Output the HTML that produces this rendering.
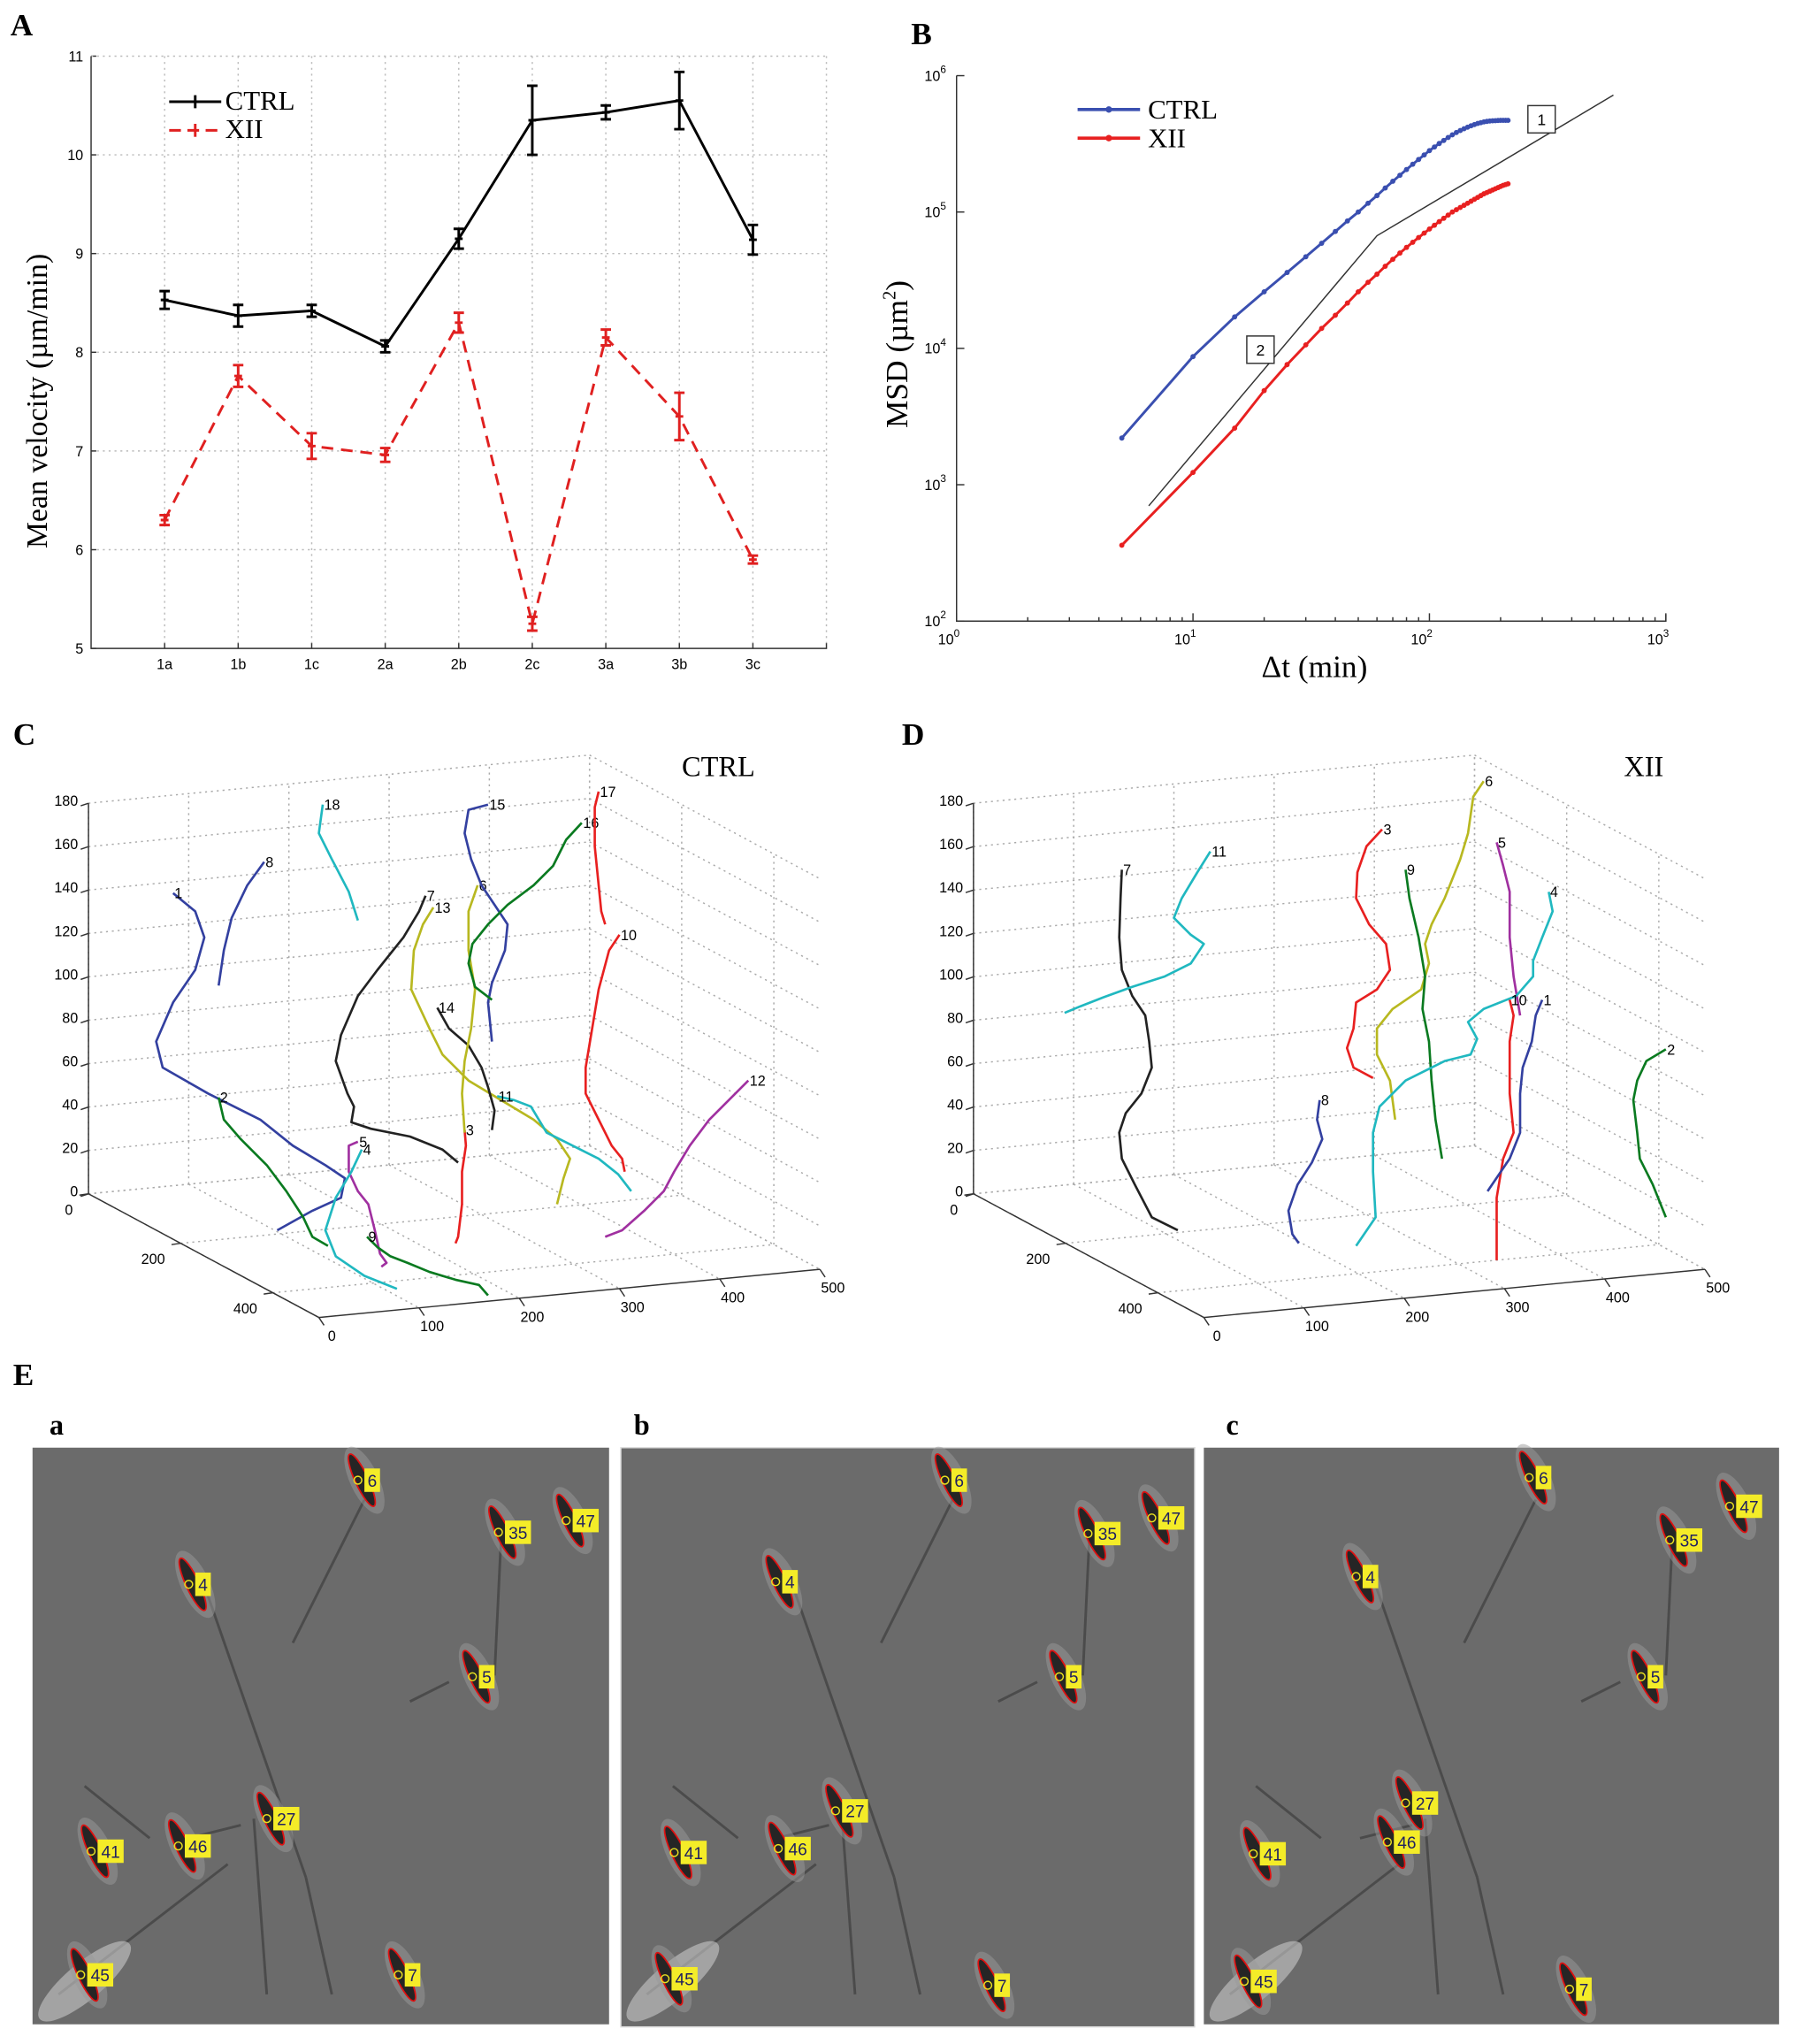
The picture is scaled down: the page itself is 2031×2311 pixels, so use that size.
<!DOCTYPE html>
<html><head><meta charset="utf-8"><style>
html,body{margin:0;padding:0;background:#fff;}
svg{display:block;}
.sans{font-family:"Liberation Sans",sans-serif;}
.serif{font-family:"Liberation Serif",serif;}
</style></head><body>
<svg id="fig" width="2031" height="2311" viewBox="0 0 1380 1570" xmlns="http://www.w3.org/2000/svg">
<g id="gA"></g>
<g id="gB"></g>
<g id="gC"></g>
<g id="gD"></g>
<g id="gE"></g>
</svg>
<script>
// ---------- Panel A data ----------
const catsA = ["1a","1b","1c","2a","2b","2c","3a","3b","3c"];
const ctrlA = [8.53,8.37,8.42,8.06,9.15,10.35,10.43,10.55,9.14];
const ctrlErrA = [0.09,0.11,0.06,0.06,0.1,0.35,0.07,0.29,0.15];
const xiiA = [6.30,7.76,7.05,6.96,8.30,5.25,8.15,7.35,5.90];
const xiiErrA = [0.05,0.11,0.13,0.07,0.1,0.07,0.08,0.24,0.04];
const yTicksA = [5,6,7,8,9,10,11];
// ---------- Panel B data ----------
const lagsB = [5,10,15,20,25,30,35,40,45,50,55,60,65,70,75,80,85,90,95,100,105,110,115,120,125,130,135,140,145,150,155,160,165,170,175,180,185,190,195,200,205,210,215];
const ctrlB = [2200,8700,17000,26000,36000,47000,59000,72000,86000,100000,116000,132000,150000,168000,186000,205000,224000,243000,262000,282000,300000,318000,335000,352000,368000,383000,396000,408000,419000,429000,438000,446000,452000,458000,462000,465000,467000,468000,469000,470000,470000,470000,470000];
const xiiB = [360,1230,2600,4900,7600,10600,14000,17500,21500,26000,30500,35000,40000,45000,50000,55000,60000,65000,70000,75000,80000,85000,90000,95000,100000,104000,108000,112000,116000,120000,124000,128000,132000,136000,139000,142000,145000,148000,151000,154000,157000,159000,161000];
const refLineT = [6.5,60,600];
const refLineV = [700,67000,720000];
const xExpB = [0,1,2,3];
const yExpB = [2,3,4,5,6];
// ---------- Panel C / D tracks (screen-projected points) ----------
const tracksC = [
 {id:"1",c:"#3340a0",p:[[133,686],[150,700],[157,720],[150,745],[133,770],[120,800],[125,820],[160,840],[200,860],[225,880],[250,895],[265,905],[262,920],[240,930],[213,945]]},
 {id:"8",c:"#3340a0",p:[[203,662],[190,680],[178,705],[172,730],[168,757]]},
 {id:"18",c:"#20b8c0",p:[[248,618],[245,640],[255,660],[268,685],[275,707]]},
 {id:"2",c:"#0a7a20",p:[[168,843],[172,860],[185,875],[205,895],[220,915],[233,935],[240,950],[252,957]]},
 {id:"5",c:"#a030a0",p:[[275,877],[268,880],[268,900],[275,915],[283,925],[288,945],[292,963],[297,970],[293,973]]},
 {id:"4",c:"#20b8c0",p:[[278,883],[270,900],[258,920],[250,945],[258,965],[280,980],[305,990]]},
 {id:"9",c:"#0a7a20",p:[[282,950],[290,958],[300,965],[313,970],[330,977],[350,983],[368,987],[375,995]]},
 {id:"7",c:"#222222",p:[[327,688],[322,700],[310,720],[290,745],[275,765],[262,795],[258,815],[267,840],[272,850],[270,862],[285,867],[315,873],[340,883],[352,893]]},
 {id:"13",c:"#b8b820",p:[[333,697],[325,710],[318,730],[316,760],[330,790],[340,810],[345,815],[360,830],[385,845],[410,860],[428,875],[438,890],[433,905],[428,925]]},
 {id:"14",c:"#222222",p:[[336,774],[345,790],[360,803],[370,820],[375,835],[380,853],[378,868]]},
 {id:"3",c:"#e82020",p:[[357,868],[358,880],[355,900],[355,925],[352,950],[350,955]]},
 {id:"6",c:"#b8b820",p:[[367,680],[360,700],[360,730],[365,760],[362,790],[357,815],[355,840],[357,870]]},
 {id:"15",c:"#3340a0",p:[[375,618],[360,622],[357,640],[362,660],[370,680],[380,695],[390,710],[388,730],[378,755],[375,770],[378,800]]},
 {id:"16",c:"#0a7a20",p:[[447,632],[435,645],[425,665],[410,680],[390,695],[375,710],[363,725],[360,740],[365,758],[378,768]]},
 {id:"17",c:"#e82020",p:[[460,608],[457,620],[457,650],[460,680],[462,700],[465,710]]},
 {id:"10",c:"#e82020",p:[[476,718],[468,730],[460,760],[455,790],[450,820],[450,840],[460,860],[470,880],[478,890],[480,900]]},
 {id:"11",c:"#20b8c0",p:[[382,842],[395,845],[408,850],[420,870],[440,880],[460,890],[475,902],[485,915]]},
 {id:"12",c:"#a030a0",p:[[575,830],[565,840],[545,860],[530,880],[518,900],[510,915],[495,930],[478,945],[465,950]]}
];
const tracksD = [
 {id:"7",c:"#222222",p:[[862,668],[861,690],[860,720],[862,745],[870,765],[880,780],[883,800],[885,820],[877,840],[865,855],[860,870],[862,890],[872,910],[885,935],[905,945]]},
 {id:"11",c:"#20b8c0",p:[[930,654],[920,670],[908,690],[902,705],[915,718],[925,725],[915,740],[895,750],[870,758],[848,766],[830,773],[818,778]]},
 {id:"8",c:"#3340a0",p:[[1014,845],[1012,860],[1016,875],[1008,893],[997,910],[990,930],[993,948],[998,955]]},
 {id:"3",c:"#e82020",p:[[1062,637],[1050,650],[1043,670],[1042,690],[1052,710],[1065,725],[1068,745],[1058,760],[1042,770],[1040,790],[1035,805],[1040,820],[1055,828]]},
 {id:"6",c:"#b8b820",p:[[1140,600],[1132,612],[1128,640],[1122,660],[1110,690],[1100,710],[1095,725],[1098,740],[1092,760],[1070,775],[1058,790],[1058,810],[1068,830],[1072,860]]},
 {id:"9",c:"#0a7a20",p:[[1080,668],[1083,690],[1090,720],[1095,750],[1093,775],[1098,800],[1100,830],[1103,860],[1108,890]]},
 {id:"5",c:"#a030a0",p:[[1150,647],[1155,665],[1160,685],[1160,720],[1163,750],[1168,780]]},
 {id:"4",c:"#20b8c0",p:[[1190,685],[1193,700],[1185,720],[1178,738],[1178,750],[1165,765],[1140,775],[1128,785],[1135,798],[1130,810],[1110,815],[1080,830],[1060,850],[1055,870],[1055,900],[1057,935],[1042,957]]},
 {id:"10",c:"#e82020",p:[[1160,768],[1163,780],[1160,800],[1160,840],[1163,870],[1155,890],[1150,920],[1150,968]]},
 {id:"1",c:"#3340a0",p:[[1185,768],[1180,780],[1177,800],[1170,820],[1168,840],[1168,870],[1160,890],[1143,915]]},
 {id:"2",c:"#0a7a20",p:[[1280,806],[1265,815],[1258,830],[1255,845],[1258,870],[1260,890],[1270,910],[1280,935]]}
];
const zTicks3 = [0,20,40,60,80,100,120,140,160,180];
const xTicks3 = [0,100,200,300,400,500];
const yTicks3 = [0,200,400];
// ---------- Panel E cells (image-relative positions) ----------
const cellLabels = ["6","35","47","4","5","27","46","41","45","7"];
const cellsA = [[256,25],[364,65],[416,56],[126,105],[344,176],[186,285],[118,306],[51,310],[43,405],[287,405]];
const cellsB = [[255,25],[365,66],[414,54],[125,103],[343,176],[171,279],[127,308],[47,311],[40,408],[288,413]];
const cellsC = [[256,23],[364,71],[410,45],[123,99],[342,176],[161,273],[147,303],[44,312],[37,410],[287,416]];

const NS="http://www.w3.org/2000/svg";
function mk(parent,tag,attrs,text){const e=document.createElementNS(NS,tag);for(const k in attrs)e.setAttribute(k,attrs[k]);if(text!==undefined)e.textContent=text;parent.appendChild(e);return e;}

// ================= PANEL A =================
(function(){
 const g=document.getElementById('gA');
 const L=70,R=635,T=43,B=498;
 const xA=i=>L+(i+1)*(R-L)/10;
 const yA=v=>B-(v-5)*(B-T)/6;
 let t=mk(g,'text',{x:8,y:27,'font-size':24,'font-weight':'bold',class:'serif'},'A');
 
 yTicksA.forEach(v=>{ if(v>5&&v<11){const l=mk(g,'line',{x1:L,x2:R,y1:yA(v),y2:yA(v),stroke:'#bbb','stroke-dasharray':'1.5,3','stroke-width':1});}
  const lb=mk(g,'text',{x:L-6,y:yA(v)+4,'font-size':11,'text-anchor':'end',class:'sans'},String(v));
  
  mk(g,'line',{x1:L,x2:L+4,y1:yA(v),y2:yA(v),stroke:'#333'});});
 mk(g,'line',{x1:L,x2:R,y1:T,y2:T,stroke:'#bbb','stroke-dasharray':'1.5,3'});
 mk(g,'line',{x1:R,x2:R,y1:T,y2:B,stroke:'#bbb','stroke-dasharray':'1.5,3'});
 catsA.forEach((c,i)=>{const l=mk(g,'line',{x1:xA(i),x2:xA(i),y1:T,y2:B,stroke:'#bbb','stroke-dasharray':'1.5,3'});
  mk(g,'line',{x1:xA(i),x2:xA(i),y1:B,y2:B-4,stroke:'#333'});
  const lb=mk(g,'text',{x:xA(i),y:B+16,'font-size':11,'text-anchor':'middle',class:'sans'},c);
  });
 const ax=mk(g,'path',{d:`M${L},${T}V${B}H${R}V${B-4}`,fill:'none',stroke:'#333','stroke-width':1});
 
 const yl=mk(g,'text',{x:0,y:0,transform:`translate(36,308) rotate(-90)`,'font-size':23,'text-anchor':'middle',class:'serif'},'Mean velocity (µm/min)');
 
 function series(vals,errs,color,dash,name){
  const pl=mk(g,'polyline',{points:vals.map((v,i)=>xA(i)+','+yA(v)).join(' '),fill:'none',stroke:color,'stroke-width':2,'stroke-dasharray':dash});
  
  vals.forEach((v,i)=>{const x=xA(i),y1=yA(v+errs[i]),y2=yA(v-errs[i]);
   const e=mk(g,'path',{d:`M${x},${y1}V${y2}M${x-4},${y1}H${x+4}M${x-4},${y2}H${x+4}M${x-3},${yA(v)}H${x+3}`,stroke:color,'stroke-width':2,fill:'none'});
   });
 }
 series(ctrlA,ctrlErrA,'#000','none','ctrl');
 series(xiiA,xiiErrA,'#e02020','9,6','xii');
 const lg=mk(g,'g',{});
 mk(lg,'path',{d:'M130,78H170M150,73V83',stroke:'#000','stroke-width':2});
 mk(lg,'text',{x:173,y:84,'font-size':21,class:'serif'},'CTRL');
 mk(lg,'path',{d:'M130,100H170',stroke:'#e02020','stroke-width':2,'stroke-dasharray':'9,5'});
 mk(lg,'path',{d:'M150,95V105',stroke:'#e02020','stroke-width':2});
 mk(lg,'text',{x:173,y:106,'font-size':21,class:'serif'},'XII');
})();

// ================= PANEL B =================
(function(){
 const g=document.getElementById('gB');
 const L=735,R=1280,T=58,B=477;
 const xB=t=>L+Math.log10(t)*(R-L)/3;
 const yB=v=>B-(Math.log10(v)-2)*(B-T)/4;
 let t=mk(g,'text',{x:700,y:34,'font-size':24,'font-weight':'bold',class:'serif'},'B');
 
 const ax=mk(g,'path',{d:`M${L},${T}V${B}H${R}V${B-5}`,fill:'none',stroke:'#333','stroke-width':1});
 
 xExpB.forEach(k=>{const x=xB(Math.pow(10,k));mk(g,'line',{x1:x,x2:x,y1:B,y2:B-6,stroke:'#333'});
  const lb=mk(g,'text',{x:x-6,y:B+18,'font-size':11,'text-anchor':'middle',class:'sans'},'10');
  
  mk(lb,'tspan',{dy:-6,'font-size':8},String(k));
  if(k<3)for(let m=2;m<10;m++){const xm=xB(m*Math.pow(10,k));mk(g,'line',{x1:xm,x2:xm,y1:B,y2:B-3,stroke:'#333'});}});
 yExpB.forEach(k=>{const y=yB(Math.pow(10,k));mk(g,'line',{x1:L,x2:L+6,y1:y,y2:y,stroke:'#333'});
  const lb=mk(g,'text',{x:L-8,y:y+4,'font-size':11,'text-anchor':'end',class:'sans'},'10');
  
  mk(lb,'tspan',{dy:-6,'font-size':8},String(k));});
 const xl=mk(g,'text',{x:1010,y:520,'font-size':24,'text-anchor':'middle',class:'serif'},'Δt (min)');
 
 const yl=mk(g,'text',{x:0,y:0,transform:'translate(697,272) rotate(-90)','font-size':24,'text-anchor':'middle',class:'serif'},'MSD (µm');
 
 mk(yl,'tspan',{dy:-9,'font-size':14},'2');mk(yl,'tspan',{dy:9},')');
 const rl=mk(g,'polyline',{points:refLineT.map((tt,i)=>xB(tt)+','+yB(refLineV[i])).join(' '),fill:'none',stroke:'#333','stroke-width':1});
 
 function series(vals,color,name){
  const pl=mk(g,'polyline',{points:vals.map((v,i)=>xB(lagsB[i])+','+yB(v)).join(' '),fill:'none',stroke:color,'stroke-width':2});
  
  vals.forEach((v,i)=>{const c=mk(g,'circle',{cx:xB(lagsB[i]),cy:yB(v),r:2,fill:color});});
 }
 series(ctrlB,'#3a4fb0','ctrl');series(xiiB,'#e82020','xii');
 const b1=mk(g,'g',{});
 mk(b1,'rect',{x:1174,y:81,width:21,height:21,fill:'#fff',stroke:'#333'});
 mk(b1,'text',{x:1184.5,y:96,'font-size':12,'text-anchor':'middle',class:'sans'},'1');
 const b2=mk(g,'g',{});
 mk(b2,'rect',{x:958,y:258,width:21,height:21,fill:'#fff',stroke:'#333'});
 mk(b2,'text',{x:968.5,y:273,'font-size':12,'text-anchor':'middle',class:'sans'},'2');
 const lg=mk(g,'g',{});
 mk(lg,'line',{x1:828,x2:876,y1:84,y2:84,stroke:'#3a4fb0','stroke-width':2.5});mk(lg,'circle',{cx:852,cy:84,r:2.5,fill:'#3a4fb0'});
 mk(lg,'text',{x:882,y:91,'font-size':21,class:'serif'},'CTRL');
 mk(lg,'line',{x1:828,x2:876,y1:106,y2:106,stroke:'#e82020','stroke-width':2.5});mk(lg,'circle',{cx:852,cy:106,r:2.5,fill:'#e82020'});
 mk(lg,'text',{x:882,y:113,'font-size':21,class:'serif'},'XII');
})();

// ================= PANELS C, D =================
function draw3D(gid,ox,label,title,tracks){
 const g=document.getElementById(gid);
 const P=(x,y,z)=>[68+ox+x*0.77+y*0.354, 917-x*0.074+y*0.19-z*1.667];
 const ln=(a,b,attrs)=>mk(g,'line',Object.assign({x1:a[0],y1:a[1],x2:b[0],y2:b[1]},attrs));
 const dot={stroke:'#aaa','stroke-dasharray':'1.5,3','stroke-width':1};
 let t=mk(g,'text',{x:10+ox+(ox?3:0),y:572,'font-size':24,'font-weight':'bold',class:'serif'},label);
 
 let tt=mk(g,'text',{x:ox?1263:552,y:596,'font-size':22,'text-anchor':'middle',class:'serif'},title);
 
 zTicks3.forEach(z=>{ln(P(0,0,z),P(500,0,z),dot);ln(P(500,0,z),P(500,500,z),dot);
  const a=P(0,0,z);ln(a,[a[0]-6,a[1]+2],{stroke:'#333'});
  const lb=mk(g,'text',{x:a[0]-8,y:a[1]+2,'font-size':11,'text-anchor':'end',class:'sans'},String(z));
  });
 xTicks3.forEach(x=>{ln(P(x,0,0),P(x,0,180),dot);ln(P(x,0,0),P(x,500,0),dot);
  const a=P(x,500,0);ln(a,[a[0]+4,a[1]+6],{stroke:'#333'});
  const lb=mk(g,'text',{x:a[0]+10,y:a[1]+18,'font-size':11,'text-anchor':'middle',class:'sans'},String(x));
  });
 yTicks3.forEach(y=>{ln(P(500,y,0),P(500,y,180),dot);ln(P(0,y,0),P(500,y,0),dot);
  const a=P(0,y,0);ln(a,[a[0]-7,a[1]+1],{stroke:'#333'});
  const lb=mk(g,'text',{x:a[0]-12,y:a[1]+16,'font-size':11,'text-anchor':'end',class:'sans'},String(y));
  });
 const az=ln(P(0,0,0),P(0,0,180),{stroke:'#333'});
 const ay=ln(P(0,0,0),P(0,500,0),{stroke:'#333'});
 const axx=ln(P(0,500,0),P(500,500,0),{stroke:'#333'});
 tracks.forEach(tr=>{
  const pl=mk(g,'polyline',{points:tr.p.map(q=>q[0]+','+q[1]).join(' '),fill:'none',stroke:tr.c,'stroke-width':1.8,'stroke-linejoin':'round'});
  
  const lb=mk(g,'text',{x:tr.p[0][0]+1,y:tr.p[0][1]+4,'font-size':11,class:'sans'},tr.id);
  
 });
}
draw3D('gC',0,'C','CTRL',tracksC);
draw3D('gD',680,'D','XII',tracksD);

// ================= PANEL E =================
(function(){
 const g=document.getElementById('gE');
 let t=mk(g,'text',{x:10,y:1064,'font-size':24,'font-weight':'bold',class:'serif'},'E');
 
 const imgs=[{x:25,w:443,h:443,l:'a',cells:cellsA,lx:38},{x:477,w:441,h:445,l:'b',cells:cellsB,lx:487},{x:925,w:442,h:443,l:'c',cells:cellsC,lx:942}];
 const fibers=[[130,100,210,330],[210,330,230,420],[255,40,200,150],[360,70,355,175],[170,285,180,420],[20,420,150,320],[90,300,40,260],[320,180,290,195],[160,290,120,300]];
 imgs.forEach((im,k)=>{
  const y0=1112;
  const sl=mk(g,'text',{x:im.lx,y:1102,'font-size':22,'font-weight':'bold',class:'serif'},im.l);
  
  const ig=mk(g,'g',{});
  mk(ig,'rect',{x:im.x,y:y0,width:im.w,height:im.h,fill:'#6b6b6b',stroke:k==1?'#ddd':'none'});
  fibers.forEach(f=>mk(ig,'line',{x1:im.x+f[0],y1:y0+f[1],x2:im.x+f[2],y2:y0+f[3],stroke:'#3e3e3e','stroke-width':2,opacity:0.7}));
  mk(ig,'ellipse',{cx:im.x+40,cy:y0+410,rx:45,ry:14,transform:`rotate(-40 ${im.x+40} ${y0+410})`,fill:'#c8c8c8',opacity:0.6});
  im.cells.forEach((c,i)=>{
   const cx=im.x+c[0],cy=y0+c[1];
   const cell=mk(ig,'g',{});
   mk(cell,'ellipse',{cx:cx-1,cy:cy,rx:11,ry:28,transform:`rotate(-25 ${cx-1} ${cy})`,fill:'#9a9a9a',opacity:0.5});
   mk(cell,'ellipse',{cx:cx-3,cy:cy,rx:5,ry:22,transform:`rotate(-25 ${cx-3} ${cy})`,fill:'#252525',stroke:'#e01010','stroke-width':1.2});
   mk(cell,'circle',{cx:cx-6,cy:cy,r:3,fill:'none',stroke:'#e8e020','stroke-width':1});
   const w=cellLabels[i].length>1?20:12;
   mk(cell,'rect',{x:cx-1,y:cy-9,width:w,height:18,fill:'#f4ec28'});
   const lb=mk(cell,'text',{x:cx-1+w/2,y:cy+5,'font-size':13,'text-anchor':'middle',fill:'#202060',class:'sans'},cellLabels[i]);
   
  });
 });
})();
</script>
</body></html>
